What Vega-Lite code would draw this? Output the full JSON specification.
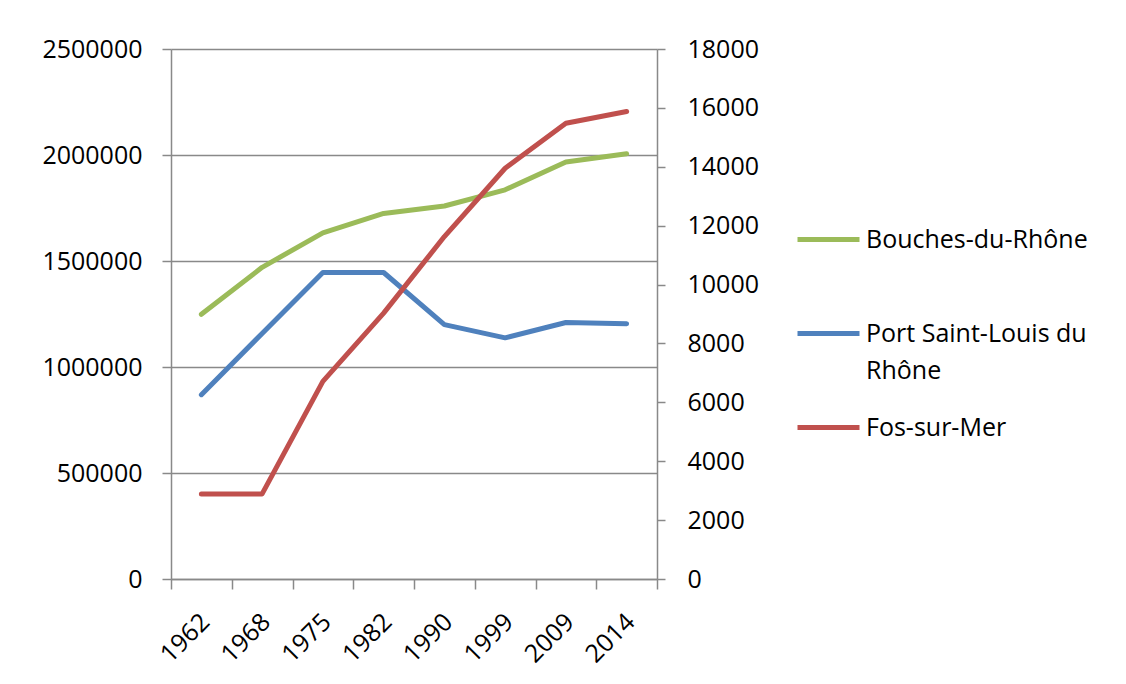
{
  "$schema": "https://vega.github.io/schema/vega-lite/v6.json",
  "autosize": {"type": "none"},
  "width": 486,
  "height": 530,
  "padding": {"left": 171, "top": 49, "right": 469, "bottom": 105},
  "background": "white",
  "config": {
    "font": "Open Sans",
    "view": {"stroke": null},
    "style": {"guide-label": {"lineHeight": 37}},
    "axis": {"labelFont": "Open Sans", "labelFontSize": 25, "labelColor": "#000000", "domainColor": "#898989", "tickColor": "#898989", "gridColor": "#898989", "domainWidth": 1.5, "tickWidth": 1.5, "gridWidth": 1.5, "title": null}
  },
  "data": {
    "values": [
      {"year": "1962", "series": "Bouches-du-Rhône", "value": 1248355},
      {"year": "1968", "series": "Bouches-du-Rhône", "value": 1470271},
      {"year": "1975", "series": "Bouches-du-Rhône", "value": 1632974},
      {"year": "1982", "series": "Bouches-du-Rhône", "value": 1724199},
      {"year": "1990", "series": "Bouches-du-Rhône", "value": 1759371},
      {"year": "1999", "series": "Bouches-du-Rhône", "value": 1835719},
      {"year": "2009", "series": "Bouches-du-Rhône", "value": 1967299},
      {"year": "2014", "series": "Bouches-du-Rhône", "value": 2006069},
      {"year": "1962", "series": "Port Saint-Louis du Rhône", "value": 6260},
      {"year": "1968", "series": "Port Saint-Louis du Rhône", "value": 8340},
      {"year": "1975", "series": "Port Saint-Louis du Rhône", "value": 10410},
      {"year": "1982", "series": "Port Saint-Louis du Rhône", "value": 10410},
      {"year": "1990", "series": "Port Saint-Louis du Rhône", "value": 8640},
      {"year": "1999", "series": "Port Saint-Louis du Rhône", "value": 8190},
      {"year": "2009", "series": "Port Saint-Louis du Rhône", "value": 8710},
      {"year": "2014", "series": "Port Saint-Louis du Rhône", "value": 8670},
      {"year": "1962", "series": "Fos-sur-Mer", "value": 2890},
      {"year": "1968", "series": "Fos-sur-Mer", "value": 2890},
      {"year": "1975", "series": "Fos-sur-Mer", "value": 6710},
      {"year": "1982", "series": "Fos-sur-Mer", "value": 9030},
      {"year": "1990", "series": "Fos-sur-Mer", "value": 11630},
      {"year": "1999", "series": "Fos-sur-Mer", "value": 13950},
      {"year": "2009", "series": "Fos-sur-Mer", "value": 15480},
      {"year": "2014", "series": "Fos-sur-Mer", "value": 15880}
    ]
  },
  "encoding": {
    "x": {
      "field": "year", "type": "ordinal", "bandPosition": 0.5,
      "scale": {"type": "band", "paddingInner": 0, "paddingOuter": 0},
      "axis": {"labelAngle": -45, "tickBand": "extent", "tickSize": 10, "labelPadding": 20, "labelOffset": -5, "grid": false}
    },
    "color": {
      "field": "series", "type": "nominal",
      "scale": {"domain": ["Bouches-du-Rhône", "Port Saint-Louis du Rhône", "Fos-sur-Mer"], "range": ["#9BBB59", "#4F81BD", "#C0504D"]},
      "legend": {
        "title": null, "orient": "none", "legendX": 624, "legendY": 157,
        "symbolType": "stroke", "symbolSize": 3844, "symbolStrokeWidth": 5,
        "labelFontSize": 25, "labelFont": "Open Sans", "labelColor": "#000000", "labelOffset": 4, "labelLimit": 400,
        "rowPadding": 10, "labelBaseline": "middle",
        "labelExpr": "datum.label == 'Port Saint-Louis du Rhône' ? ['Port Saint-Louis du', 'Rhône'] : [datum.label, ' ']",
        "encoding": {"labels": {"update": {"dy": {"value": 18.5}}}}
      }
    }
  },
  "layer": [
    {
      "transform": [{"filter": "datum.series == 'Bouches-du-Rhône'"}],
      "mark": {"type": "line", "strokeWidth": 5, "strokeCap": "round", "strokeJoin": "round"},
      "encoding": {
        "y": {
          "field": "value", "type": "quantitative",
          "scale": {"domain": [0, 2500000], "nice": false, "zero": true},
          "axis": {"orient": "left", "values": [0, 500000, 1000000, 1500000, 2000000, 2500000], "format": "d", "tickSize": 9, "labelPadding": 20, "grid": true}
        }
      }
    },
    {
      "transform": [{"filter": "datum.series != 'Bouches-du-Rhône'"}],
      "mark": {"type": "line", "strokeWidth": 5, "strokeCap": "round", "strokeJoin": "round"},
      "encoding": {
        "y": {
          "field": "value", "type": "quantitative",
          "scale": {"domain": [0, 18000], "nice": false, "zero": true},
          "axis": {"orient": "right", "values": [0, 2000, 4000, 6000, 8000, 10000, 12000, 14000, 16000, 18000], "format": "d", "tickSize": 8, "labelPadding": 22, "grid": false}
        }
      }
    }
  ],
  "resolve": {"scale": {"y": "independent"}}
}
